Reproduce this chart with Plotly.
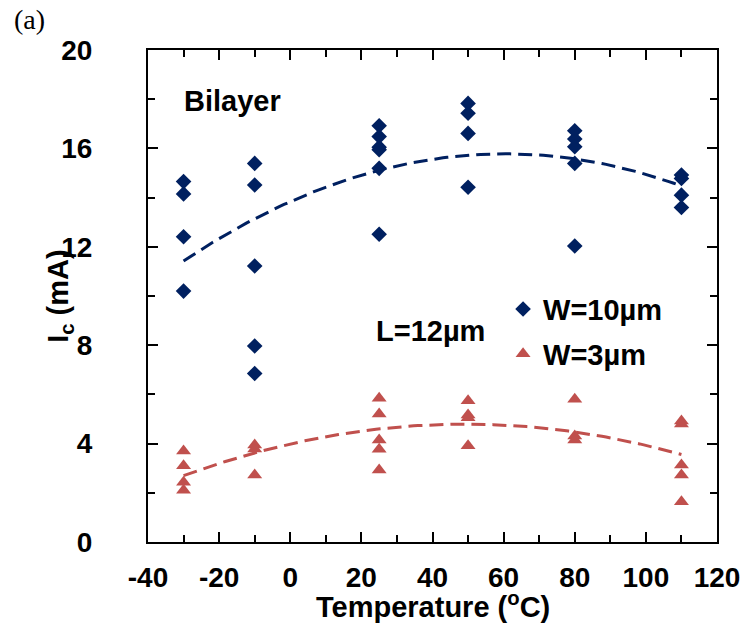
import numpy as np
import plotly.graph_objects as go

# Critical current vs temperature, bilayer devices, L = 12 µm
temp_w10 = [-30, -30, -30, -30,
            -10, -10, -10, -10, -10,
            25, 25, 25, 25, 25, 25,
            50, 50, 50, 50,
            80, 80, 80, 80, 80,
            110, 110, 110, 110]
ic_w10 = [14.65, 14.15, 12.41, 10.2,
          15.39, 14.51, 11.22, 7.97, 6.85,
          16.92, 16.48, 16.05, 15.95, 15.19, 12.51,
          17.83, 17.43, 16.61, 14.42,
          16.72, 16.38, 16.07, 15.39, 12.03,
          14.92, 14.78, 14.1, 13.6]

temp_w3 = [-30, -30, -30, -30,
           -10, -10, -10,
           25, 25, 25, 25, 25,
           50, 50, 50, 50,
           80, 80, 80,
           110, 110, 110, 110, 110]
ic_w3 = [3.7, 3.1, 2.43, 2.1,
         3.94, 3.78, 2.72,
         5.84, 5.2, 4.15, 3.77, 2.93,
         5.74, 5.16, 5.05, 3.91,
         5.8, 4.31, 4.15,
         4.92, 4.8, 3.13, 2.72, 1.64]

x_ticks = [-40, -20, 0, 20, 40, 60, 80, 100, 120]
y_ticks = [0, 4, 8, 12, 16, 20]

BLUE = "#002060"
RED = "#C0504D"
FONT = "Liberation Sans"
TICK_FS = 28
TEXT_FS = 29


def quad_trend(x, y):
    coef = np.polyfit(x, y, 2)
    xs = np.linspace(min(x), max(x), 120)
    return xs, np.polyval(coef, xs)


fig = go.Figure()

tx, ty = quad_trend(temp_w10, ic_w10)
fig.add_trace(go.Scatter(x=tx, y=ty, mode="lines", showlegend=False,
                         line=dict(color=BLUE, width=3, dash="14px,7px"),
                         hoverinfo="skip"))
tx, ty = quad_trend(temp_w3, ic_w3)
fig.add_trace(go.Scatter(x=tx, y=ty, mode="lines", showlegend=False,
                         line=dict(color=RED, width=3, dash="14px,7px"),
                         hoverinfo="skip"))

fig.add_trace(go.Scatter(x=temp_w10, y=ic_w10, mode="markers", name="W=10µm",
                         legendgroup="w10",
                         marker=dict(symbol="diamond", size=12, color=BLUE,
                                     line=dict(width=0))))
fig.add_trace(go.Scatter(x=temp_w3, y=ic_w3, mode="markers", name="W=3µm",
                         legendgroup="w3",
                         marker=dict(symbol="triangle-up", size=13, color=RED,
                                     line=dict(width=0))))

axis_common = dict(
    showgrid=False, zeroline=False,
    showline=True, linecolor="black", linewidth=2,
    mirror="ticks", ticks="inside", tickcolor="black", tickwidth=2,
    ticklen=10,
    tickfont=dict(family=FONT, size=TICK_FS, color="black", weight="bold"),
)

fig.update_xaxes(range=[-40, 120], tickvals=x_ticks,
                 ticktext=[str(v) for v in x_ticks],
                 minor=dict(dtick=10, ticks="inside", ticklen=7,
                            tickcolor="black", tickwidth=2),
                 ticklabelstandoff=9, **axis_common)
fig.update_yaxes(range=[0, 20], tickvals=y_ticks,
                 ticktext=[str(v) for v in y_ticks],
                 minor=dict(dtick=2, ticks="inside", ticklen=7,
                            tickcolor="black", tickwidth=2),
                 ticklabelstandoff=48, **axis_common)

text_font = dict(family=FONT, size=TEXT_FS, color="black", weight="bold")


def label(text, x, y, **kw):
    return dict(text=text, x=x, y=y, xref="paper", yref="paper",
                xanchor="center", yanchor="middle", showarrow=False,
                font=kw.pop("font", text_font), **kw)


fig.update_layout(
    width=752, height=635,
    margin=dict(l=148, r=25, t=50, b=93),
    plot_bgcolor="white", paper_bgcolor="white",
    legend=dict(x=0.624, y=0.525, xanchor="left", yanchor="top",
                bgcolor="rgba(0,0,0,0)", font=text_font,
                itemwidth=30, traceorder="grouped", tracegroupgap=4),
    annotations=[
        label("Bilayer", 0.1485, 0.896),
        label("L=12µm", 0.497, 0.429),
        label("Temperature (<sup>o</sup>C)", 0.5, -0.128),
        label("I<sub>c</sub> (mA)", -0.155, 0.5, textangle=-90),
        label("(a)", -0.209, 1.061,
              font=dict(family="Liberation Serif", size=28, color="black")),
    ],
)

fig.write_html("out.html")
